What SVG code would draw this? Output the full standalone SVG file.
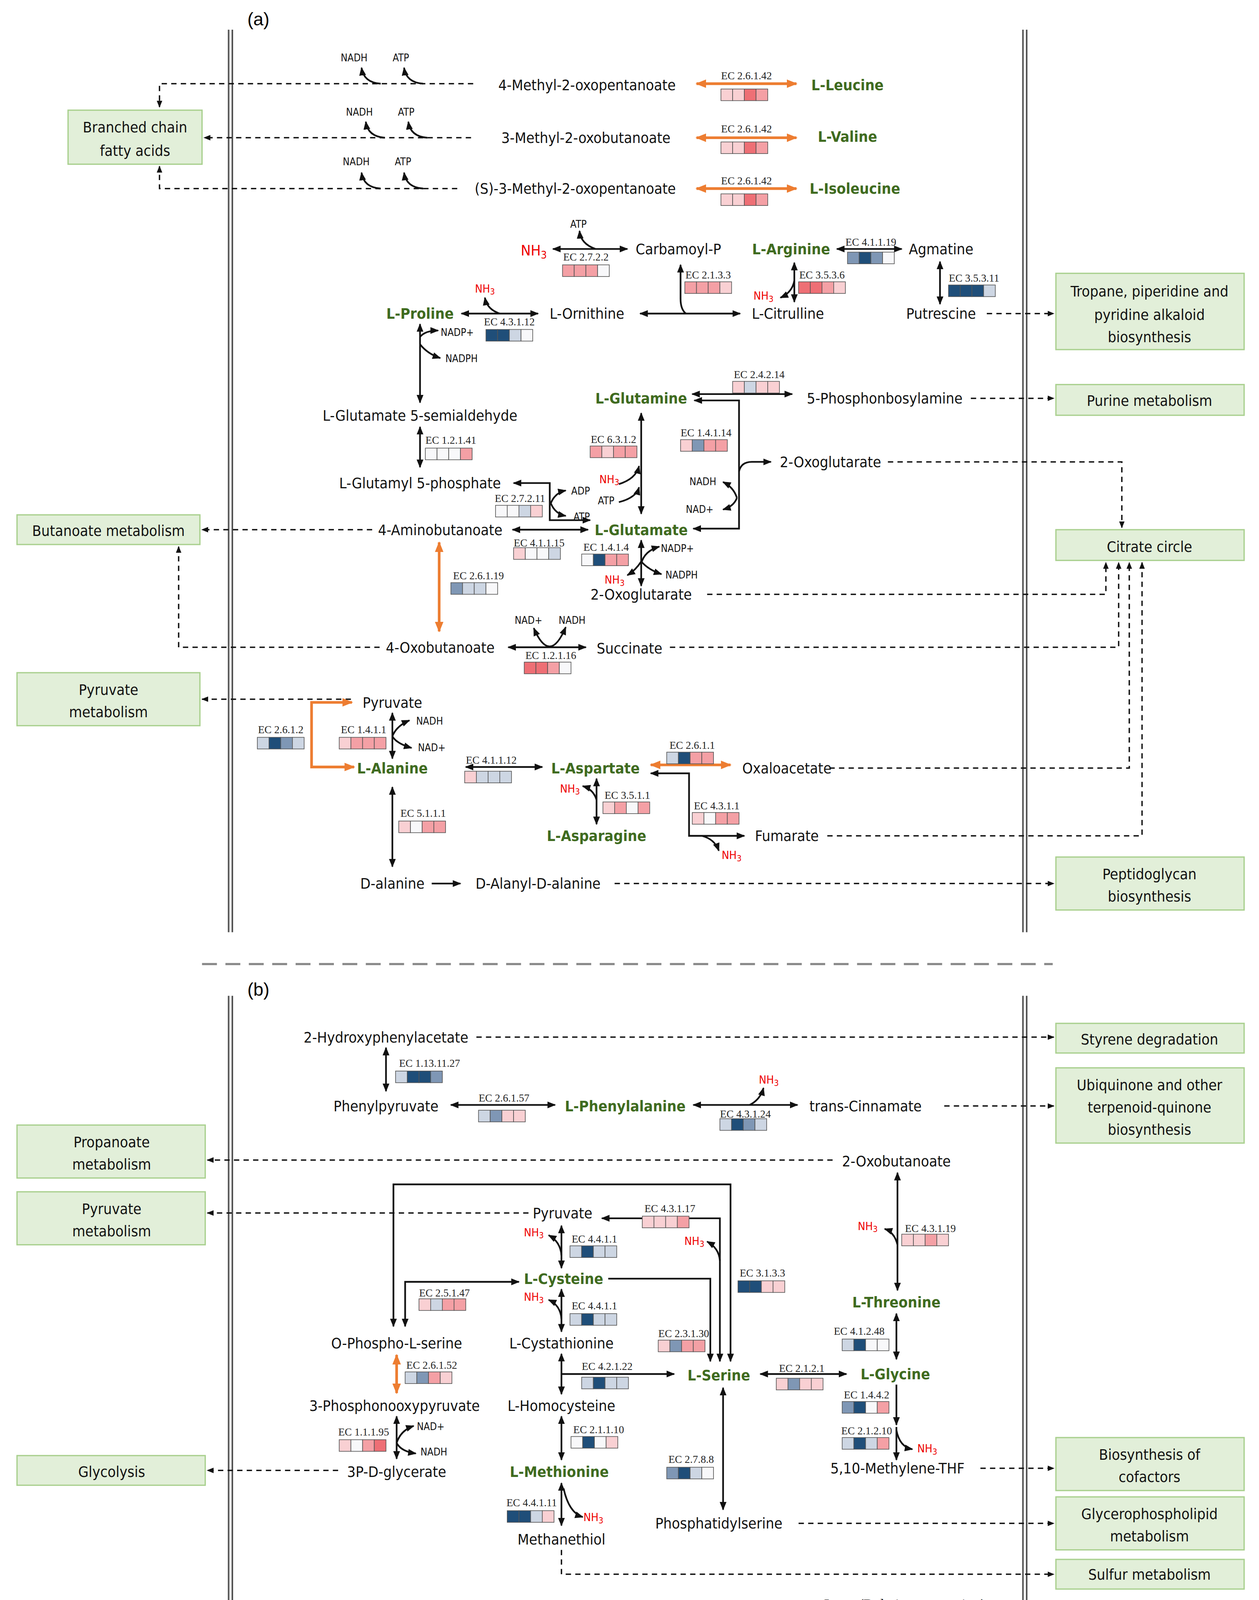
<svg xmlns="http://www.w3.org/2000/svg" width="3224" height="4252" viewBox="0 0 3224 4252">
<style>
.t{font-family:"DejaVu Sans Condensed","DejaVu Sans",sans-serif;font-stretch:condensed;font-size:14px;text-anchor:middle;fill:#111}
.g{fill:#3f6b1f;font-weight:bold}
.r{fill:#e00;font-size:10.5px}
.s{font-size:9.5px}
.ec{font-family:"Liberation Serif",serif;font-size:10px;text-anchor:middle;fill:#222}
.bx{fill:#e2efd9;stroke:#a9d08e;stroke-width:1.2}
.l{fill:none;stroke:#111;stroke-width:1.6}
.d{fill:none;stroke:#111;stroke-width:1.3;stroke-dasharray:5 4}
.o{fill:none;stroke:#ed7d31;stroke-width:2.5}
.h{width:11px;height:11px;stroke:#555;stroke-width:.6}
.c1{fill:#1f4e79}.c2{fill:#7f97b5}.c3{fill:#cdd6e3}.c0{fill:#f8f8fa}.c4{fill:#f9d0d3}.c5{fill:#f4a0a5}.c6{fill:#ee6f75}
.v{fill:none;stroke:#555;stroke-width:1.5}
.lg{font-family:"Liberation Sans",sans-serif;font-size:11px;font-weight:bold;text-anchor:middle}
</style>
<defs>
<marker id="a" viewBox="0 0 10 10" refX="9" refY="5" markerWidth="5" markerHeight="5" orient="auto-start-reverse"><path d="M0,1L10,5L0,9z" fill="#111"/></marker>
<marker id="b" viewBox="0 0 10 10" refX="9" refY="5" markerWidth="4" markerHeight="4" orient="auto-start-reverse"><path d="M0,1L10,5L0,9z" fill="#ed7d31"/></marker>
</defs>
<rect width="3224" height="4252" fill="#fff"/>
<g transform="scale(2.723,2.712)">
<text x="243" y="24" style="font-family:'Liberation Sans',sans-serif;font-size:17px;text-anchor:middle">(a)</text>
<text x="243" y="940" style="font-family:'Liberation Sans',sans-serif;font-size:17px;text-anchor:middle">(b)</text>
<g id="walls">
<path class="v" d="M215,28V880M218.5,28V880M962,28V880M965.5,28V880M215,940V1520M218.5,940V1520M962,940V1520M965.5,940V1520"/>
<path d="M190,910H990" stroke="#888" stroke-width="2" stroke-dasharray="14 8"/>
</g>
<g id="connectors">
<g marker-end="url(#a)">
<path class="d" d="M445,79H150V101"/><path class="d" d="M443,130H192"/><path class="d" d="M430,178H150V157"/>
<path class="l" d="M358,79Q342,78 340,64"/><path class="l" d="M398,79Q382,78 380,64"/>
<path class="l" d="M362,130Q346,129 344,115"/><path class="l" d="M402,130Q386,129 384,115"/>
<path class="l" d="M358,178Q342,177 340,163"/><path class="l" d="M398,178Q382,177 380,163"/>
<path class="l" d="M560,235Q546,230 545,218"/>
<path class="l" d="M645,296Q640,292 640,282V250"/>
<path class="l" d="M470,296Q458,292 456,281"/>
<path class="l" d="M747,265Q745,276 734,281"/>
<path class="d" d="M928,296H991"/>
<path class="l" d="M395,318Q400,312 412,312"/><path class="l" d="M395,325Q402,334 414,338"/>
<path class="l" d="M695,445Q697,436 707,436H725"/>
<path class="l" d="M693,470Q690,460 680,455"/><path class="l" d="M693,470Q690,478 680,481"/>
<path class="l" d="M582,457Q598,452 601,440"/><path class="l" d="M582,474Q598,470 601,460"/>
<path class="d" d="M913,376H991"/>
<path class="l" d="M518,475Q522,465 532,463"/><path class="l" d="M518,475Q522,485 532,487"/>
<path class="l" d="M603,532Q606,520 620,516"/><path class="l" d="M603,530Q610,538 622,542"/><path class="l" d="M603,530Q598,538 590,543"/>
<path class="d" d="M665,561H1040V531"/><path class="d" d="M835,436H1055V498"/>
<path class="d" d="M350,500H190"/>
<path class="d" d="M630,611H1052V531"/><path class="d" d="M357,611H168V516"/>
<path class="d" d="M330,660H190"/>
<path class="l" d="M369,695Q373,685 385,680"/><path class="l" d="M369,695Q373,702 387,706"/>
<path class="d" d="M780,725H1062V531"/>
<path class="l" d="M660,789Q672,792 676,803"/>
<path class="d" d="M778,789H1074V531"/>
<path class="l" d="M561,755Q558,745 548,742"/>
<path class="l" d="M406,834H433"/>
<path class="d" d="M578,834H991"/>
<path class="d" d="M448,979H991"/>
<path class="l" d="M705,1043Q715,1038 718,1027"/>
<path class="d" d="M888,1044H991"/>
<path class="d" d="M783,1095H195"/><path class="d" d="M497,1145H195"/>
<path class="l" d="M677,1190Q676,1178 665,1172"/>
<path class="l" d="M572,1207H668V1285"/>
<path class="l" d="M528,1185Q527,1172 516,1166"/>
<path class="l" d="M528,1245Q527,1232 516,1227"/>
<path class="l" d="M528,1297H634"/>
<path class="l" d="M844,1175Q841,1163 832,1160"/>
<path class="l" d="M843,1307V1345"/><path class="l" d="M843,1347V1378"/><path class="l" d="M843,1350Q846,1366 858,1368"/>
<path class="d" d="M922,1386H991"/>
<path class="l" d="M373,1362Q377,1350 389,1346"/><path class="l" d="M373,1362Q377,1370 391,1372"/>
<path class="d" d="M318,1388H195"/>
<path class="l" d="M530,1405Q535,1428 548,1432"/>
<path class="d" d="M528,1463V1486H991"/>
<path class="d" d="M751,1438H991"/>
</g>
<g marker-start="url(#a)" marker-end="url(#a)">
<path class="l" d="M520,235H590"/><path class="l" d="M602,296H696"/><path class="l" d="M434,296H506"/>
<path class="l" d="M747,248V285"/><path class="l" d="M787,235H848"/><path class="l" d="M884,247V287"/>
<path class="l" d="M395,306V380"/><path class="l" d="M395,403V441"/>
<path class="l" d="M651,372H745"/><path class="l" d="M653,378H695V499H652"/>
<path class="l" d="M603,390V485"/><path class="l" d="M483,456H517V491H555"/>
<path class="l" d="M482,500H553"/><path class="l" d="M603,510V553"/>
<path class="l" d="M478,611H551"/><path class="l" d="M502,593Q517,628 532,592"/>
<path class="l" d="M369,673V716"/><path class="l" d="M438,724H510"/>
<path class="l" d="M612,730H648V789H700"/><path class="l" d="M561,735V778"/><path class="l" d="M369,743V818"/>
<path class="l" d="M363,989V1030"/><path class="l" d="M424,1043H522"/><path class="l" d="M652,1043H750"/>
<path class="l" d="M687,1285V1118H370V1252"/><path class="l" d="M677,1285V1150H566"/>
<path class="l" d="M528,1157V1197"/><path class="l" d="M381,1252V1210H488"/><path class="l" d="M528,1217V1257"/>
<path class="l" d="M528,1278V1316"/><path class="l" d="M715,1297H796"/><path class="l" d="M680,1310V1425"/>
<path class="l" d="M844,1107V1218"/><path class="l" d="M843,1240V1283"/>
<path class="l" d="M373,1337V1377"/><path class="l" d="M528,1337V1378"/><path class="l" d="M528,1400V1440"/>
</g>
<g marker-start="url(#b)" marker-end="url(#b)">
<path class="o" d="M655,79H749"/><path class="o" d="M655,130H749"/><path class="o" d="M655,178H749"/>
<path class="o" d="M413,512V596"/><path class="o" d="M331,663H293V724H333"/><path class="o" d="M612,722H687"/>
<path class="o" d="M373,1279V1315"/>
</g>
</g>
<g id="boxes">
<g id="bcfa"><rect class="bx" x="64" y="104" width="126" height="51"/><text class="t" x="127" y="125">Branched chain</text><text class="t" x="127" y="147">fatty acids</text></g>
<g id="tropane"><rect class="bx" x="993" y="258" width="177" height="72"/><text class="t" x="1081" y="280">Tropane, piperidine and</text><text class="t" x="1081" y="302">pyridine alkaloid</text><text class="t" x="1081" y="323">biosynthesis</text></g>
<g id="purine"><rect class="bx" x="993" y="363" width="177" height="29"/><text class="t" x="1081" y="383">Purine metabolism</text></g>
<g id="citrate"><rect class="bx" x="993" y="500" width="177" height="29"/><text class="t" x="1081" y="521">Citrate circle</text></g>
<g id="butanoate"><rect class="bx" x="16" y="486" width="172" height="28"/><text class="t" x="102" y="506">Butanoate metabolism</text></g>
<g id="pyrA"><rect class="bx" x="16" y="635" width="172" height="50"/><text class="t" x="102" y="656">Pyruvate</text><text class="t" x="102" y="677">metabolism</text></g>
<g id="pepti"><rect class="bx" x="993" y="809" width="177" height="50"/><text class="t" x="1081" y="830">Peptidoglycan</text><text class="t" x="1081" y="851">biosynthesis</text></g>
<g id="styrene"><rect class="bx" x="993" y="966" width="177" height="28"/><text class="t" x="1081" y="986">Styrene degradation</text></g>
<g id="ubiq"><rect class="bx" x="993" y="1008" width="177" height="71"/><text class="t" x="1081" y="1029">Ubiquinone and other</text><text class="t" x="1081" y="1050">terpenoid-quinone</text><text class="t" x="1081" y="1071">biosynthesis</text></g>
<g id="propan"><rect class="bx" x="16" y="1062" width="177" height="50"/><text class="t" x="105" y="1083">Propanoate</text><text class="t" x="105" y="1104">metabolism</text></g>
<g id="pyrB"><rect class="bx" x="16" y="1125" width="177" height="50"/><text class="t" x="105" y="1146">Pyruvate</text><text class="t" x="105" y="1167">metabolism</text></g>
<g id="glyco"><rect class="bx" x="16" y="1374" width="177" height="28"/><text class="t" x="105" y="1394">Glycolysis</text></g>
<g id="cofac"><rect class="bx" x="993" y="1357" width="177" height="50"/><text class="t" x="1081" y="1378">Biosynthesis of</text><text class="t" x="1081" y="1399">cofactors</text></g>
<g id="glycero"><rect class="bx" x="993" y="1413" width="177" height="50"/><text class="t" x="1081" y="1434">Glycerophospholipid</text><text class="t" x="1081" y="1455">metabolism</text></g>
<g id="sulfur"><rect class="bx" x="993" y="1472" width="177" height="28"/><text class="t" x="1081" y="1491">Sulfur metabolism</text></g>
</g>
<g id="nodes">
<text class="t" x="552" y="85">4-Methyl-2-oxopentanoate</text><text class="t g" x="797" y="85">L-Leucine</text>
<text class="t" x="551" y="135">3-Methyl-2-oxobutanoate</text><text class="t g" x="797" y="134">L-Valine</text>
<text class="t" x="541" y="183">(S)-3-Methyl-2-oxopentanoate</text><text class="t g" x="804" y="183">L-Isoleucine</text>
<text class="t s" x="333" y="58">NADH</text><text class="t s" x="377" y="58">ATP</text>
<text class="t s" x="338" y="109">NADH</text><text class="t s" x="382" y="109">ATP</text>
<text class="t s" x="335" y="156">NADH</text><text class="t s" x="379" y="156">ATP</text>
<text class="t" x="502" y="241" style="fill:#e00">NH<tspan font-size="10" dy="3">3</tspan></text>
<text class="t s" x="544" y="215">ATP</text>
<text class="t" x="638" y="240">Carbamoyl-P</text><text class="t g" x="744" y="240">L-Arginine</text><text class="t" x="885" y="240">Agmatine</text>
<text class="t g" x="395" y="301">L-Proline</text><text class="t" x="552" y="301">L-Ornithine</text><text class="t" x="741" y="301">L-Citrulline</text><text class="t" x="885" y="301">Putrescine</text>
<text class="t r" x="456" y="276">NH<tspan font-size="8" dy="2">3</tspan></text>
<text class="t r" x="718" y="283">NH<tspan font-size="8" dy="2">3</tspan></text>
<text class="t s" x="430" y="317">NADP+</text><text class="t s" x="434" y="342">NADPH</text>
<text class="t" x="395" y="397">L-Glutamate 5-semialdehyde</text>
<text class="t" x="395" y="461">L-Glutamyl 5-phosphate</text>
<text class="t g" x="603" y="381">L-Glutamine</text><text class="t" x="832" y="381">5-Phosphonbosylamine</text>
<text class="t r" x="573" y="456">NH<tspan font-size="8" dy="2">3</tspan></text><text class="t s" x="570" y="476">ATP</text>
<text class="t" x="781" y="441">2-Oxoglutarate</text>
<text class="t s" x="661" y="458">NADH</text><text class="t s" x="658" y="484">NAD+</text>
<text class="t s" x="546" y="467">ADP</text><text class="t s" x="547" y="491">ATP</text>
<text class="t" x="414" y="505">4-Aminobutanoate</text><text class="t g" x="603" y="505">L-Glutamate</text>
<text class="t s" x="637" y="521">NADP+</text><text class="t s" x="641" y="546">NADPH</text>
<text class="t r" x="578" y="551">NH<tspan font-size="8" dy="2">3</tspan></text>
<text class="t" x="603" y="566">2-Oxoglutarate</text>
<text class="t s" x="497" y="589">NAD+</text><text class="t s" x="538" y="589">NADH</text>
<text class="t" x="414" y="616">4-Oxobutanoate</text><text class="t" x="592" y="617">Succinate</text>
<text class="t" x="369" y="668">Pyruvate</text>
<text class="t s" x="404" y="684">NADH</text><text class="t s" x="406" y="709">NAD+</text>
<text class="t g" x="369" y="730">L-Alanine</text><text class="t g" x="560" y="730">L-Aspartate</text><text class="t" x="740" y="730">Oxaloacetate</text>
<text class="t r" x="536" y="748">NH<tspan font-size="8" dy="2">3</tspan></text>
<text class="t g" x="561" y="794">L-Asparagine</text><text class="t" x="740" y="794">Fumarate</text>
<text class="t r" x="688" y="811">NH<tspan font-size="8" dy="2">3</tspan></text>
<text class="t" x="369" y="839">D-alanine</text><text class="t" x="506" y="839">D-Alanyl-D-alanine</text>
<text class="t" x="363" y="984">2-Hydroxyphenylacetate</text>
<text class="t" x="363" y="1049">Phenylpyruvate</text><text class="t g" x="588" y="1049">L-Phenylalanine</text><text class="t" x="814" y="1049">trans-Cinnamate</text>
<text class="t r" x="723" y="1023">NH<tspan font-size="8" dy="2">3</tspan></text>
<text class="t" x="843" y="1101">2-Oxobutanoate</text>
<text class="t" x="529" y="1150">Pyruvate</text>
<text class="t r" x="502" y="1167">NH<tspan font-size="8" dy="2">3</tspan></text><text class="t r" x="653" y="1175">NH<tspan font-size="8" dy="2">3</tspan></text>
<text class="t r" x="816" y="1161">NH<tspan font-size="8" dy="2">3</tspan></text>
<text class="t g" x="530" y="1212">L-Cysteine</text>
<text class="t r" x="502" y="1228">NH<tspan font-size="8" dy="2">3</tspan></text>
<text class="t g" x="843" y="1234">L-Threonine</text>
<text class="t" x="373" y="1273">O-Phospho-L-serine</text><text class="t" x="528" y="1273">L-Cystathionine</text>
<text class="t g" x="676" y="1303">L-Serine</text><text class="t g" x="842" y="1302">L-Glycine</text>
<text class="t" x="371" y="1332">3-Phosphonooxypyruvate</text><text class="t" x="528" y="1332">L-Homocysteine</text>
<text class="t s" x="405" y="1350">NAD+</text><text class="t s" x="408" y="1374">NADH</text>
<text class="t r" x="872" y="1371">NH<tspan font-size="8" dy="2">3</tspan></text>
<text class="t" x="844" y="1391">5,10-Methylene-THF</text>
<text class="t" x="373" y="1394">3P-D-glycerate</text><text class="t g" x="526" y="1394">L-Methionine</text>
<text class="t r" x="558" y="1436">NH<tspan font-size="8" dy="2">3</tspan></text>
<text class="t" x="676" y="1443">Phosphatidylserine</text>
<text class="t" x="528" y="1458">Methanethiol</text>
</g>
<g id="enzymes">
<text class="ec" x="702" y="75">EC 2.6.1.42</text><g transform="translate(678,84)"><rect class="h c4" x="0"/><rect class="h c4" x="11"/><rect class="h c6" x="22"/><rect class="h c5" x="33"/></g>
<text class="ec" x="702" y="125">EC 2.6.1.42</text><g transform="translate(678,134)"><rect class="h c4" x="0"/><rect class="h c4" x="11"/><rect class="h c6" x="22"/><rect class="h c5" x="33"/></g>
<text class="ec" x="702" y="174">EC 2.6.1.42</text><g transform="translate(678,183)"><rect class="h c4" x="0"/><rect class="h c4" x="11"/><rect class="h c6" x="22"/><rect class="h c5" x="33"/></g>
<text class="ec" x="551" y="246">EC 2.7.2.2</text><g transform="translate(529,250)"><rect class="h c5" x="0"/><rect class="h c5" x="11"/><rect class="h c5" x="22"/><rect class="h c0" x="33"/></g>
<text class="ec" x="819" y="232">EC 4.1.1.19</text><g transform="translate(797,238)"><rect class="h c2" x="0"/><rect class="h c1" x="11"/><rect class="h c2" x="22"/><rect class="h c0" x="33"/></g>
<text class="ec" x="666" y="263">EC 2.1.3.3</text><g transform="translate(644,266)"><rect class="h c5" x="0"/><rect class="h c5" x="11"/><rect class="h c5" x="22"/><rect class="h c4" x="33"/></g>
<text class="ec" x="773" y="263">EC 3.5.3.6</text><g transform="translate(751,266)"><rect class="h c6" x="0"/><rect class="h c6" x="11"/><rect class="h c5" x="22"/><rect class="h c4" x="33"/></g>
<text class="ec" x="916" y="266">EC 3.5.3.11</text><g transform="translate(892,269)"><rect class="h c1" x="0"/><rect class="h c1" x="11"/><rect class="h c1" x="22"/><rect class="h c3" x="33"/></g>
<text class="ec" x="479" y="307">EC 4.3.1.12</text><g transform="translate(457,311)"><rect class="h c1" x="0"/><rect class="h c1" x="11"/><rect class="h c3" x="22"/><rect class="h c0" x="33"/></g>
<text class="ec" x="714" y="357">EC 2.4.2.14</text><g transform="translate(689,360)"><rect class="h c4" x="0"/><rect class="h c3" x="11"/><rect class="h c4" x="22"/><rect class="h c4" x="33"/></g>
<text class="ec" x="424" y="419">EC 1.2.1.41</text><g transform="translate(400,423)"><rect class="h c0" x="0"/><rect class="h c0" x="11"/><rect class="h c0" x="22"/><rect class="h c5" x="33"/></g>
<text class="ec" x="577" y="418">EC 6.3.1.2</text><g transform="translate(555,421)"><rect class="h c5" x="0"/><rect class="h c4" x="11"/><rect class="h c5" x="22"/><rect class="h c5" x="33"/></g>
<text class="ec" x="664" y="412">EC 1.4.1.14</text><g transform="translate(640,415)"><rect class="h c4" x="0"/><rect class="h c2" x="11"/><rect class="h c5" x="22"/><rect class="h c5" x="33"/></g>
<text class="ec" x="489" y="474">EC 2.7.2.11</text><g transform="translate(466,477)"><rect class="h c0" x="0"/><rect class="h c0" x="11"/><rect class="h c3" x="22"/><rect class="h c4" x="33"/></g>
<text class="ec" x="507" y="516">EC 4.1.1.15</text><g transform="translate(483,517)"><rect class="h c4" x="0"/><rect class="h c0" x="11"/><rect class="h c0" x="22"/><rect class="h c3" x="33"/></g>
<text class="ec" x="570" y="520">EC 1.4.1.4</text><g transform="translate(547,523)"><rect class="h c0" x="0"/><rect class="h c1" x="11"/><rect class="h c5" x="22"/><rect class="h c5" x="33"/></g>
<text class="ec" x="450" y="547">EC 2.6.1.19</text><g transform="translate(424,550)"><rect class="h c2" x="0"/><rect class="h c3" x="11"/><rect class="h c3" x="22"/><rect class="h c0" x="33"/></g>
<text class="ec" x="518" y="622">EC 1.2.1.16</text><g transform="translate(493,625)"><rect class="h c6" x="0"/><rect class="h c6" x="11"/><rect class="h c5" x="22"/><rect class="h c0" x="33"/></g>
<text class="ec" x="264" y="692">EC 2.6.1.2</text><g transform="translate(242,696)"><rect class="h c3" x="0"/><rect class="h c1" x="11"/><rect class="h c2" x="22"/><rect class="h c3" x="33"/></g>
<text class="ec" x="342" y="692">EC 1.4.1.1</text><g transform="translate(319,696)"><rect class="h c4" x="0"/><rect class="h c5" x="11"/><rect class="h c5" x="22"/><rect class="h c5" x="33"/></g>
<text class="ec" x="462" y="721">EC 4.1.1.12</text><g transform="translate(437,728)"><rect class="h c4" x="0"/><rect class="h c3" x="11"/><rect class="h c3" x="22"/><rect class="h c3" x="33"/></g>
<text class="ec" x="651" y="707">EC 2.6.1.1</text><g transform="translate(627,710)"><rect class="h c3" x="0"/><rect class="h c1" x="11"/><rect class="h c5" x="22"/><rect class="h c5" x="33"/></g>
<text class="ec" x="590" y="754">EC 3.5.1.1</text><g transform="translate(567,757)"><rect class="h c4" x="0"/><rect class="h c5" x="11"/><rect class="h c0" x="22"/><rect class="h c5" x="33"/></g>
<text class="ec" x="674" y="764">EC 4.3.1.1</text><g transform="translate(651,767)"><rect class="h c4" x="0"/><rect class="h c0" x="11"/><rect class="h c5" x="22"/><rect class="h c5" x="33"/></g>
<text class="ec" x="398" y="771">EC 5.1.1.1</text><g transform="translate(375,775)"><rect class="h c4" x="0"/><rect class="h c0" x="11"/><rect class="h c5" x="22"/><rect class="h c5" x="33"/></g>
<text class="ec" x="404" y="1007">EC 1.13.11.27</text><g transform="translate(372,1011)"><rect class="h c3" x="0"/><rect class="h c1" x="11"/><rect class="h c1" x="22"/><rect class="h c2" x="33"/></g>
<text class="ec" x="474" y="1040">EC 2.6.1.57</text><g transform="translate(450,1048)"><rect class="h c3" x="0"/><rect class="h c2" x="11"/><rect class="h c4" x="22"/><rect class="h c4" x="33"/></g>
<text class="ec" x="701" y="1055">EC 4.3.1.24</text><g transform="translate(677,1056)"><rect class="h c3" x="0"/><rect class="h c1" x="11"/><rect class="h c2" x="22"/><rect class="h c3" x="33"/></g>
<text class="ec" x="630" y="1144">EC 4.3.1.17</text><g transform="translate(604,1148)"><rect class="h c4" x="0"/><rect class="h c4" x="11"/><rect class="h c4" x="22"/><rect class="h c5" x="33"/></g>
<text class="ec" x="559" y="1173">EC 4.4.1.1</text><g transform="translate(536,1176)"><rect class="h c3" x="0"/><rect class="h c1" x="11"/><rect class="h c3" x="22"/><rect class="h c3" x="33"/></g>
<text class="ec" x="875" y="1163">EC 4.3.1.19</text><g transform="translate(848,1165)"><rect class="h c4" x="0"/><rect class="h c4" x="11"/><rect class="h c5" x="22"/><rect class="h c4" x="33"/></g>
<text class="ec" x="717" y="1205">EC 3.1.3.3</text><g transform="translate(694,1209)"><rect class="h c1" x="0"/><rect class="h c1" x="11"/><rect class="h c4" x="22"/><rect class="h c4" x="33"/></g>
<text class="ec" x="418" y="1224">EC 2.5.1.47</text><g transform="translate(394,1226)"><rect class="h c4" x="0"/><rect class="h c3" x="11"/><rect class="h c5" x="22"/><rect class="h c5" x="33"/></g>
<text class="ec" x="559" y="1236">EC 4.4.1.1</text><g transform="translate(536,1240)"><rect class="h c3" x="0"/><rect class="h c1" x="11"/><rect class="h c3" x="22"/><rect class="h c3" x="33"/></g>
<text class="ec" x="643" y="1262">EC 2.3.1.30</text><g transform="translate(619,1265)"><rect class="h c4" x="0"/><rect class="h c2" x="11"/><rect class="h c5" x="22"/><rect class="h c5" x="33"/></g>
<text class="ec" x="808" y="1260">EC 4.1.2.48</text><g transform="translate(792,1264)"><rect class="h c3" x="0"/><rect class="h c1" x="11"/><rect class="h c0" x="22"/><rect class="h c0" x="33"/></g>
<text class="ec" x="406" y="1292">EC 2.6.1.52</text><g transform="translate(381,1295)"><rect class="h c3" x="0"/><rect class="h c2" x="11"/><rect class="h c5" x="22"/><rect class="h c4" x="33"/></g>
<text class="ec" x="571" y="1293">EC 4.2.1.22</text><g transform="translate(547,1300)"><rect class="h c3" x="0"/><rect class="h c1" x="11"/><rect class="h c3" x="22"/><rect class="h c3" x="33"/></g>
<text class="ec" x="754" y="1295">EC 2.1.2.1</text><g transform="translate(730,1301)"><rect class="h c4" x="0"/><rect class="h c2" x="11"/><rect class="h c4" x="22"/><rect class="h c4" x="33"/></g>
<text class="ec" x="815" y="1320">EC 1.4.4.2</text><g transform="translate(792,1323)"><rect class="h c2" x="0"/><rect class="h c1" x="11"/><rect class="h c0" x="22"/><rect class="h c5" x="33"/></g>
<text class="ec" x="815" y="1354">EC 2.1.2.10</text><g transform="translate(792,1357)"><rect class="h c3" x="0"/><rect class="h c1" x="11"/><rect class="h c3" x="22"/><rect class="h c5" x="33"/></g>
<text class="ec" x="342" y="1355">EC 1.1.1.95</text><g transform="translate(319,1359)"><rect class="h c4" x="0"/><rect class="h c0" x="11"/><rect class="h c5" x="22"/><rect class="h c6" x="33"/></g>
<text class="ec" x="563" y="1353">EC 2.1.1.10</text><g transform="translate(537,1356)"><rect class="h c0" x="0"/><rect class="h c1" x="11"/><rect class="h c0" x="22"/><rect class="h c4" x="33"/></g>
<text class="ec" x="650" y="1381">EC 2.7.8.8</text><g transform="translate(627,1385)"><rect class="h c2" x="0"/><rect class="h c1" x="11"/><rect class="h c3" x="22"/><rect class="h c0" x="33"/></g>
<text class="ec" x="500" y="1422">EC 4.4.1.11</text><g transform="translate(477,1426)"><rect class="h c1" x="0"/><rect class="h c1" x="11"/><rect class="h c3" x="22"/><rect class="h c4" x="33"/></g>
</g>
<g id="legend">
<text x="851" y="1519" style="font-family:'Liberation Serif',serif;font-size:14px;text-anchor:middle">Log<tspan font-size="10" dy="3">10</tspan><tspan dy="-3">(Relative expression)</tspan></text>
<g stroke="#111" stroke-width="1.2">
<rect x="781" y="1527" width="20" height="21" fill="#2f5496"/><rect x="801" y="1527" width="20" height="21" fill="#6f86b0"/><rect x="821" y="1527" width="20" height="21" fill="#b4c3dc"/><rect x="841" y="1527" width="20" height="21" fill="#fff"/><rect x="861" y="1527" width="20" height="21" fill="#ffa3a3"/><rect x="881" y="1527" width="20" height="21" fill="#ff5555"/><rect x="901" y="1527" width="19" height="21" fill="#ff0000"/>
</g>
<text class="lg" x="789" y="1561">&lt;−7</text><text class="lg" x="811" y="1561">−6</text><text class="lg" x="831" y="1561">−5</text><text class="lg" x="851" y="1561">−4</text><text class="lg" x="871" y="1561">−3</text><text class="lg" x="891" y="1561">−2</text><text class="lg" x="910" y="1561">−1</text>
</g>
</g>
</svg>
